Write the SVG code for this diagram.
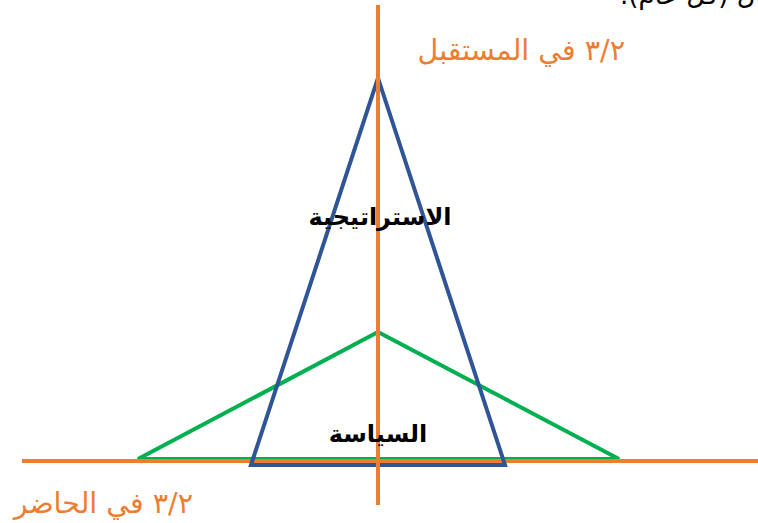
<svg xmlns="http://www.w3.org/2000/svg" width="758" height="523" viewBox="0 0 758 523">
<style>
.axis{stroke:#ED7D31;stroke-width:4;fill:none}
.tri{fill:none;stroke-width:4;stroke-linejoin:miter}
.lbl{font-family:"DejaVu Sans","Noto Sans",sans-serif;font-size:28.5px;fill:#ED7D31}
.bold{font-family:"DejaVu Sans","Noto Sans",sans-serif;font-size:24px;font-weight:bold;fill:#000}
</style>
<rect width="758" height="523" fill="#fff"/>
<text x="620" y="4" direction="rtl" text-anchor="end" style="font-family:'DejaVu Sans',sans-serif;font-size:26px;fill:#000">على سبيل المثال (كل عام).</text>
<g id="connectors">
<polygon id="green-tri" class="tri" points="378,332 619,459 138,459" stroke="#00B050"/>
<line class="axis" x1="22" y1="461" x2="758" y2="461"/>
<polygon id="blue-tri" class="tri" points="378,78 505,465 251,465" stroke="#2F5597"/>
<line class="axis" x1="378" y1="5" x2="378" y2="505"/>
</g>
<g id="future"><text class="lbl" x="625" y="60" direction="rtl" text-anchor="start">٣/٢ في المستقبل</text></g>
<g id="present"><text class="lbl" x="193" y="513" direction="rtl" text-anchor="start">٣/٢ في الحاضر</text></g>
<g id="strategy"><text class="bold" x="380" y="225" text-anchor="middle">الاستراتيجية</text></g>
<g id="policy"><text class="bold" x="378" y="442" text-anchor="middle">السياسة</text></g>
</svg>
